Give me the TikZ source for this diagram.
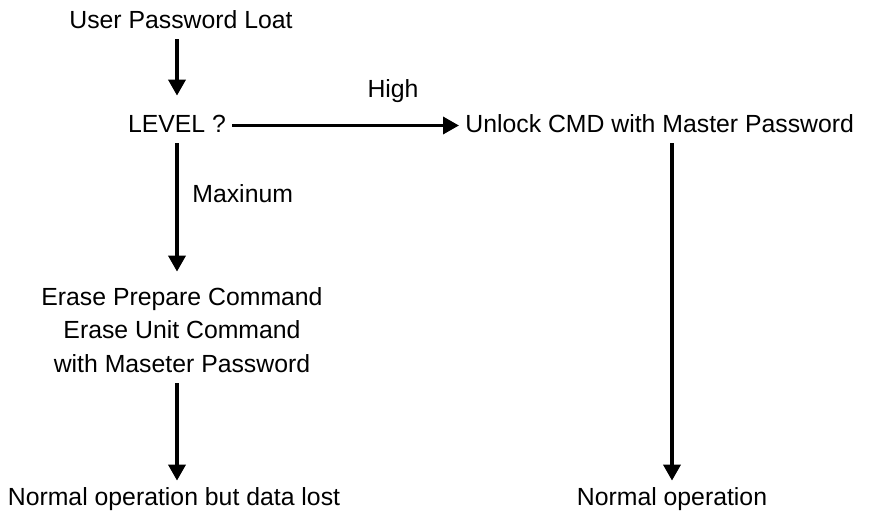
\documentclass[tikz,border=0pt]{standalone}
\usepackage{fontspec}
\setmainfont{Liberation Sans}
\usetikzlibrary{arrows.meta}
\tikzset{
	lbl/.style={anchor=base,inner sep=3pt,text height=9pt,text depth=2.5pt,align=center,font=\fontsize{12.4}{16.75}\selectfont},
	arr/.style={line width=1.75pt,-{Triangle[length=8pt,width=8.5pt]}}
}
\begin{document}
\begin{tikzpicture}[x=0.5pt,y=-0.5pt]
	\useasboundingbox (0,0) rectangle (873,514);
	\node[lbl] (user) at (181,28) {User Password Loat};
	\node[lbl] (level) at (177,132) {LEVEL ?};
	\node[lbl,anchor=base west] (unlock) at (459,132) {Unlock CMD with Master Password};
	\node[lbl] (high) at (393,97) {High};
	\node[lbl,anchor=base west] (max) at (186,202) {Maxinum};
	\node[lbl,text height=42.5pt] (erase) at (182,372) {Erase Prepare Command\\Erase Unit Command\\with Maseter Password};
	\node[lbl] (lost) at (174,505) {Normal operation but data lost};
	\node[lbl] (normal) at (672,505) {Normal operation};
	\draw[arr,shorten >=6pt] (user.south -| level) -- (level);
	\draw[arr] (level) -- (unlock);
	\draw[arr,shorten >=4.5pt] (level) -- (level |- erase.north);
	\draw[arr] (erase.south -| level) -- (level |- lost.north);
	\draw[arr] (unlock.south -| normal) -- (normal);
\end{tikzpicture}
\end{document}
